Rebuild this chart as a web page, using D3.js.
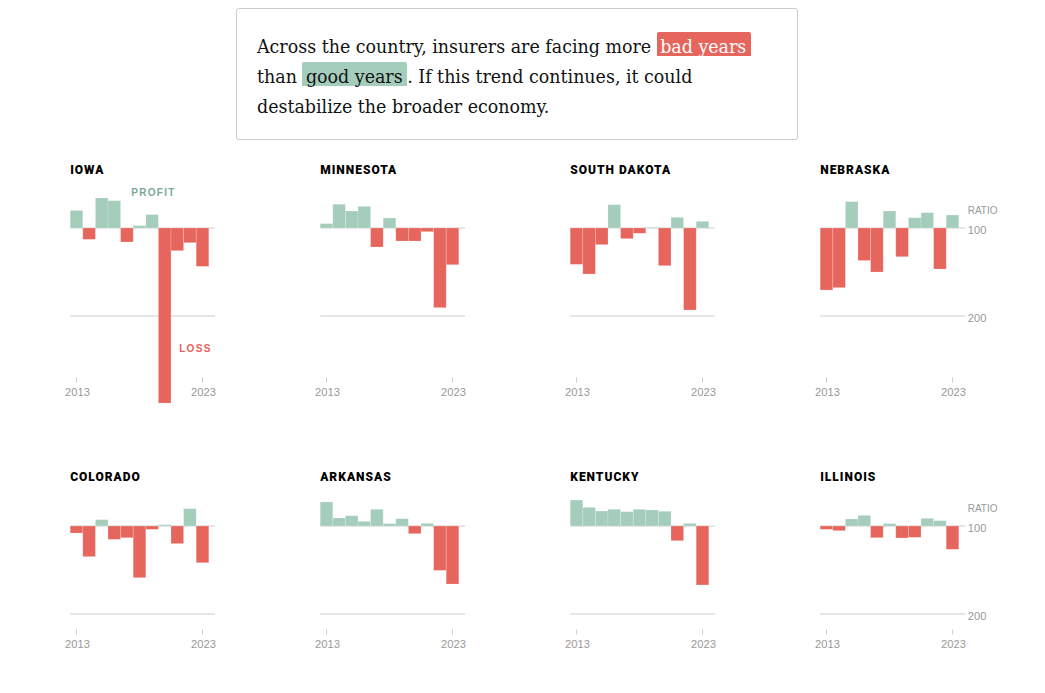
<!DOCTYPE html>
<html>
<head>
<meta charset="utf-8">
<script src="https://cdnjs.cloudflare.com/ajax/libs/d3/7.8.5/d3.min.js"></script>
<style>
html,body{margin:0;padding:0;background:#fff;overflow:hidden;width:1045px;height:693px}
#box{position:absolute;left:236px;top:8px;width:560px;height:130px;border:1px solid #ccc;border-radius:3px;box-sizing:content-box}
#txt{position:absolute;left:20px;top:23px;width:530px;font-family:"DejaVu Serif Condensed","DejaVu Serif",serif;font-stretch:condensed;font-size:19.4px;line-height:30px;color:#121212;white-space:nowrap;opacity:.999}
.hl{border-radius:2px;padding:3px 4.5px 0 3.5px;background-repeat:no-repeat}
.bad{background-image:linear-gradient(#e6655c,#e6655c);background-size:100% 24px;color:#fff}
.good{background-image:linear-gradient(#a5cdbc,#a5cdbc);background-size:100% 24px;color:#121212}
svg{position:absolute;left:0;top:0;opacity:.999}
.title{font-family:Roboto,"Liberation Sans",sans-serif;font-weight:900;font-size:12px;letter-spacing:1px;fill:#000}
.tick{font-family:"Liberation Sans",sans-serif;font-size:11.2px;fill:#999}
.lab{font-family:"Liberation Sans",sans-serif;font-weight:700;font-size:10px;letter-spacing:1.3px}
</style>
</head>
<body>
<div id="box"><div id="txt">Across the country, insurers are facing more <span class="hl bad">bad years</span><br>than <span class="hl good">good years</span>. If this trend continues, it could<br>destabilize the broader economy.</div></div>
<svg id="chart" width="1045" height="693"></svg>
<script>
const years = [2013,2014,2015,2016,2017,2018,2019,2020,2021,2022,2023];
const tickYears = [2013,2023];
const gridValues = [100,200];
const stateNames = ["IOWA","MINNESOTA","SOUTH DAKOTA","NEBRASKA","COLORADO","ARKANSAS","KENTUCKY","ILLINOIS"];
const iowa = [80,112.9,65.9,68.9,115.9,97.3,84.8,298.9,125.8,116.7,143.6];
const minnesota = [95,73,80.7,75.4,121.6,88.6,114.8,114.8,104.2,190.5,141.7];
const southDakota = [141.3,152.3,118.9,73.5,112.1,106,99.2,142.8,87.9,193.2,92.4];
const nebraska = [170.5,167.8,70,137,150,80.7,132.6,88.3,82.6,146.6,85.2];
const colorado = [108,134.8,92.8,115.2,113.3,158.7,103.8,98.5,120,80.3,141.7];
const arkansas = [72.7,90.9,88.3,94.7,81,97.3,91.7,108.7,97,150.4,165.9];
const kentucky = [70.5,78.8,83,81,83.7,81,81.8,83.3,116.7,97,167];
const illinois = [103.8,105.3,92,87.9,113.3,97.3,113.6,112.9,91.3,93.9,126.5];
const series = [iowa,minnesota,southDakota,nebraska,colorado,arkansas,kentucky,illinois];

const RED="#e6655c", GREEN="#a5cdbc";
const svg=d3.select("#chart");
const x=d3.scaleBand().domain(years).range([0,138.6]).padding(0);
const y=d3.scaleLinear().domain([100,200]).range([0,88]);

stateNames.forEach((name,i)=>{
  const col=i%4, row=Math.floor(i/4);
  const g=svg.append("g").attr("transform",`translate(${70.2+250*col},${(row?526:228)})`);
  g.append("text").attr("class","title").attr("x",0).attr("y",row?-45:-54.5).text(name);
  g.selectAll("line.grid").data(gridValues).join("line").attr("class","grid")
    .attr("x1",0).attr("x2",144.8).attr("y1",d=>y(d)).attr("y2",d=>y(d))
    .attr("stroke","#dedede").attr("stroke-width",1.4);
  g.selectAll("rect").data(series[i]).join("rect")
    .attr("x",(d,k)=>x(years[k]))
    .attr("width",x.bandwidth())
    .attr("y",d=>Math.min(y(d),y(100)))
    .attr("height",d=>Math.abs(y(d)-y(100)))
    .attr("fill",d=>d>100?RED:GREEN)
    .attr("stroke","#fff").attr("stroke-opacity",.25).attr("stroke-width",.8);
  const tickTop=row?103.5:149.5;
  tickYears.forEach(t=>{
    const tx=x(t)+x.bandwidth()/2;
    g.append("line").attr("x1",tx).attr("x2",tx).attr("y1",tickTop).attr("y2",tickTop+5).attr("stroke","#ccc");
    g.append("text").attr("class","tick").attr("x",tx+1).attr("y",tickTop+18).attr("text-anchor","middle").text(t);
  });
  if(col===3){
    gridValues.forEach(v=>g.append("text").attr("class","tick").attr("x",147.5).attr("y",y(v)+6).text(v));
    g.append("text").attr("class","tick").attr("x",147.5).attr("y",-14).style("font-size","10px").text("RATIO");
  }
  if(i===0){
    g.append("text").attr("class","lab").attr("x",61).attr("y",-32.5).attr("fill","#7aab97").text("PROFIT");
    g.append("text").attr("class","lab").attr("x",109).attr("y",123.5).attr("fill","#e5635a").text("LOSS");
  }
});
</script>
</body>
</html>
